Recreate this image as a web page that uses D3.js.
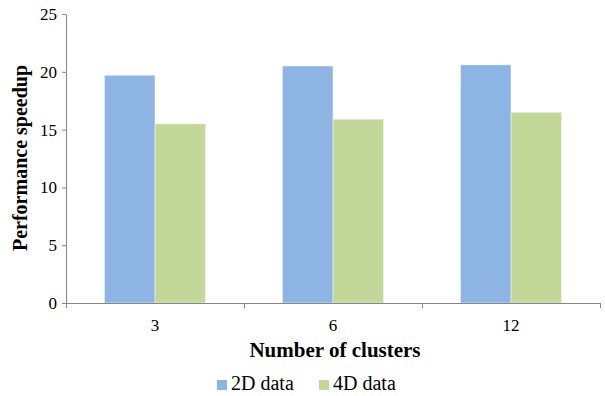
<!DOCTYPE html>
<html>
<head>
<meta charset="utf-8">
<script src="https://cdn.jsdelivr.net/npm/d3@7"></script>
<style>
  html, body { margin: 0; padding: 0; background: #fff; }
  svg { display: block; }
  svg text { font-family: 'Liberation Serif', 'Times New Roman', serif; }
</style>
</head>
<body>
<svg id="chart" width="605" height="396"></svg>
<script>
// Speedup per cluster count for 2D and 4D input data
const categories = ["3", "6", "12"];
const seriesNames = ["2D data", "4D data"];
const data2D = [19.7, 20.5, 20.6];
const data4D = [15.5, 15.9, 16.5];
const yTicks = [0, 5, 10, 15, 20, 25];
const colors = ["#8EB4E3", "#C4D79B"];

const svg = d3.select("#chart");
const margin = { left: 66, right: 5, top: 14, bottom: 93 };
const W = 605, H = 396;
const plotW = W - margin.left - margin.right;
const plotH = H - margin.top - margin.bottom;
const axisColor = "#868686";

const g = svg.append("g").attr("transform", `translate(${margin.left},${margin.top})`);

const x = d3.scaleBand().domain(categories).range([0, plotW]).paddingInner(0).paddingOuter(0);
const x1 = d3.scaleBand().domain(seriesNames).range([0, x.bandwidth()]).paddingInner(0).paddingOuter(0.76);
const y = d3.scaleLinear().domain([0, 25]).range([plotH, 0]);

// Bars
const series = [data2D, data4D];
seriesNames.forEach((name, si) => {
  g.append("g").selectAll("rect")
    .data(categories)
    .join("rect")
    .attr("x", (c) => x(c) + x1(name))
    .attr("y", (c, i) => y(series[si][i]))
    .attr("width", x1.bandwidth())
    .attr("height", (c, i) => y(0) - y(series[si][i]))
    .attr("fill", colors[si])
    .attr("stroke", "#ffffff")
    .attr("stroke-opacity", 0.45)
    .attr("stroke-width", 1);
});

// Y axis
const yAxis = d3.axisLeft(y).tickValues(yTicks).tickSize(4).tickSizeOuter(0).tickPadding(5);
const yg = g.append("g").call(yAxis);
yg.attr("font-family", null).attr("font-size", null);
yg.select(".domain").attr("stroke", axisColor);
yg.selectAll(".tick line").attr("stroke", axisColor);
yg.selectAll(".tick text").style("font-size", "17px").attr("fill", "#000");

// X axis with ticks at band boundaries
const xg = g.append("g").attr("transform", `translate(0,${plotH})`);
xg.append("line").attr("x1", 0).attr("x2", plotW).attr("y1", 0.5).attr("y2", 0.5).attr("stroke", axisColor);
const bounds = categories.map((c) => x(c)).concat([plotW]);
xg.selectAll(".bt").data(bounds).join("line")
  .attr("x1", (d) => Math.round(d) + 0.5).attr("x2", (d) => Math.round(d) + 0.5)
  .attr("y1", 0).attr("y2", 5).attr("stroke", axisColor);
xg.selectAll(".cl").data(categories).join("text")
  .attr("x", (c) => x(c) + x.bandwidth() / 2)
  .attr("y", 28)
  .attr("text-anchor", "middle")
  .style("font-size", "17px")
  .text((c) => c);

// Axis titles
svg.append("text")
  .attr("x", 335)
  .attr("y", 357)
  .attr("text-anchor", "middle")
  .style("font-size", "21px")
  .style("font-weight", "bold")
  .text("Number of clusters");

svg.append("text")
  .attr("transform", `translate(27,158) rotate(-90)`)
  .attr("text-anchor", "middle")
  .style("font-size", "20px")
  .style("font-weight", "bold")
  .text("Performance speedup");

// Legend
const legendX = [217, 319];
const lg = svg.append("g");
seriesNames.forEach((name, i) => {
  lg.append("rect").attr("x", legendX[i]).attr("y", 380).attr("width", 10).attr("height", 10).attr("fill", colors[i]);
  lg.append("text").attr("x", legendX[i] + 14).attr("y", 390).style("font-size", "20px").text(name);
});
</script>
</body>
</html>
